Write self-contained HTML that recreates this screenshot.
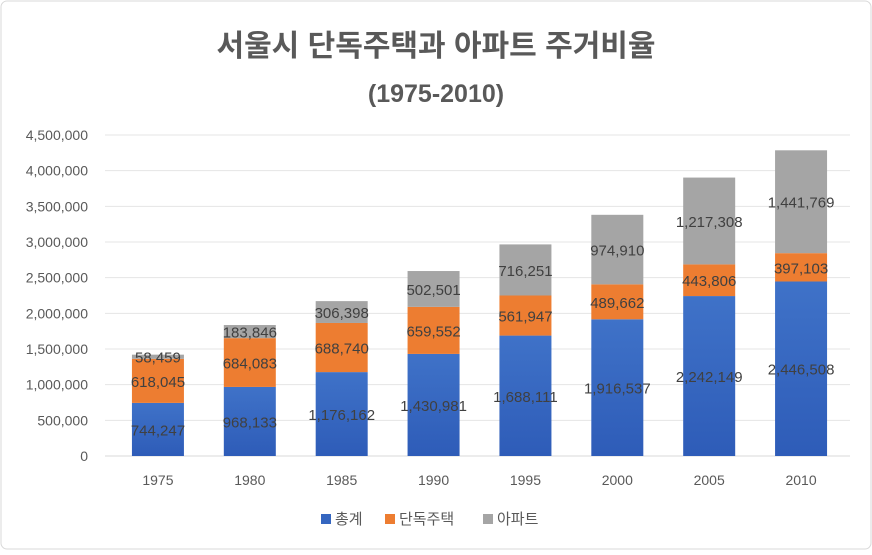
<!DOCTYPE html>
<html><head><meta charset="utf-8"><style>
body{margin:0;background:#fff;}
svg text{font-family:"Liberation Sans","Noto Sans CJK KR",sans-serif;}
</style></head><body>
<svg width="872" height="550" viewBox="0 0 872 550" xmlns="http://www.w3.org/2000/svg">
<defs><linearGradient id="gb" x1="0" x2="0" y1="0" y2="1"><stop offset="0" stop-color="#3f72c8"/><stop offset="1" stop-color="#2e5cb8"/></linearGradient></defs>
<rect x="1" y="1" width="870" height="548" rx="6" fill="#fff" stroke="#d9d9d9"/>
<text x="436" y="56" text-anchor="middle" font-size="30" font-weight="bold" fill="#595959">서울시 단독주택과 아파트 주거비율</text>
<text x="436" y="102" text-anchor="middle" font-size="25" font-weight="bold" fill="#595959">(1975-2010)</text>
<g id="grid"></g><g id="bars"></g><g id="labels"></g>
<g>
<rect x="321" y="514" width="10" height="10" fill="#3566c0"/>
<text x="335" y="524" font-size="15" fill="#595959">총계</text>
<rect x="385" y="514" width="10" height="10" fill="#ed7d31"/>
<text x="399" y="524" font-size="15" fill="#595959">단독주택</text>
<rect x="483" y="514" width="10" height="10" fill="#a5a5a5"/>
<text x="497" y="524" font-size="15" fill="#595959">아파트</text>
</g>
</svg>
<script>
const categories=["1975","1980","1985","1990","1995","2000","2005","2010"];
const totalVals=[744247,968133,1176162,1430981,1688111,1916537,2242149,2446508];
const houseVals=[618045,684083,688740,659552,561947,489662,443806,397103];
const aptVals=[58459,183846,306398,502501,716251,974910,1217308,1441769];
const yTicks=[0,500000,1000000,1500000,2000000,2500000,3000000,3500000,4000000,4500000];
const NS="http://www.w3.org/2000/svg";
const y0=456,yTop=135,yMax=4500000,x0=112,x1=847;
const y=v=>y0-(v/yMax)*(y0-yTop);
const step=(x1-x0)/categories.length;
const xc=i=>x0+step*(i+0.5);
const bw=52;
function mk(t,a,p){const e=document.createElementNS(NS,t);for(const k in a)e.setAttribute(k,a[k]);p.appendChild(e);return e;}
const fmt=v=>v.toLocaleString('en-US');
const grid=document.getElementById('grid'),bars=document.getElementById('bars'),labels=document.getElementById('labels');
yTicks.forEach(v=>{
 const l=mk('line',{x1:105,x2:850,y1:y(v),y2:y(v),stroke:v===0?'#d9d9d9':'#e4e4e4','stroke-width':1},grid);
 
 
 const t=mk('text',{x:88,y:y(v)+5,'text-anchor':'end','font-size':14,fill:'#595959'},grid);
 t.textContent=fmt(v);
 
 
});
const series=[[totalVals,'url(#gb)','total'],[houseVals,'#ed7d31','house'],[aptVals,'#a5a5a5','apt']];
categories.forEach((c,i)=>{
 let base=0;
 series.forEach(([vals,col,nm])=>{
  const v=vals[i];const top=base+v;
  const r=mk('rect',{x:xc(i)-bw/2,y:y(top),width:bw,height:y(base)-y(top),fill:col},bars);
  
  
  const t=mk('text',{x:xc(i),y:(y(base)+y(top))/2+6,'text-anchor':'middle','font-size':15,fill:'#404040'},labels);
  t.textContent=fmt(v);
  
  
  base=top;
 });
 const t=mk('text',{x:xc(i),y:485,'text-anchor':'middle','font-size':14,fill:'#595959'},grid);
 t.textContent=c;
 
 
});
</script>
</body></html>
